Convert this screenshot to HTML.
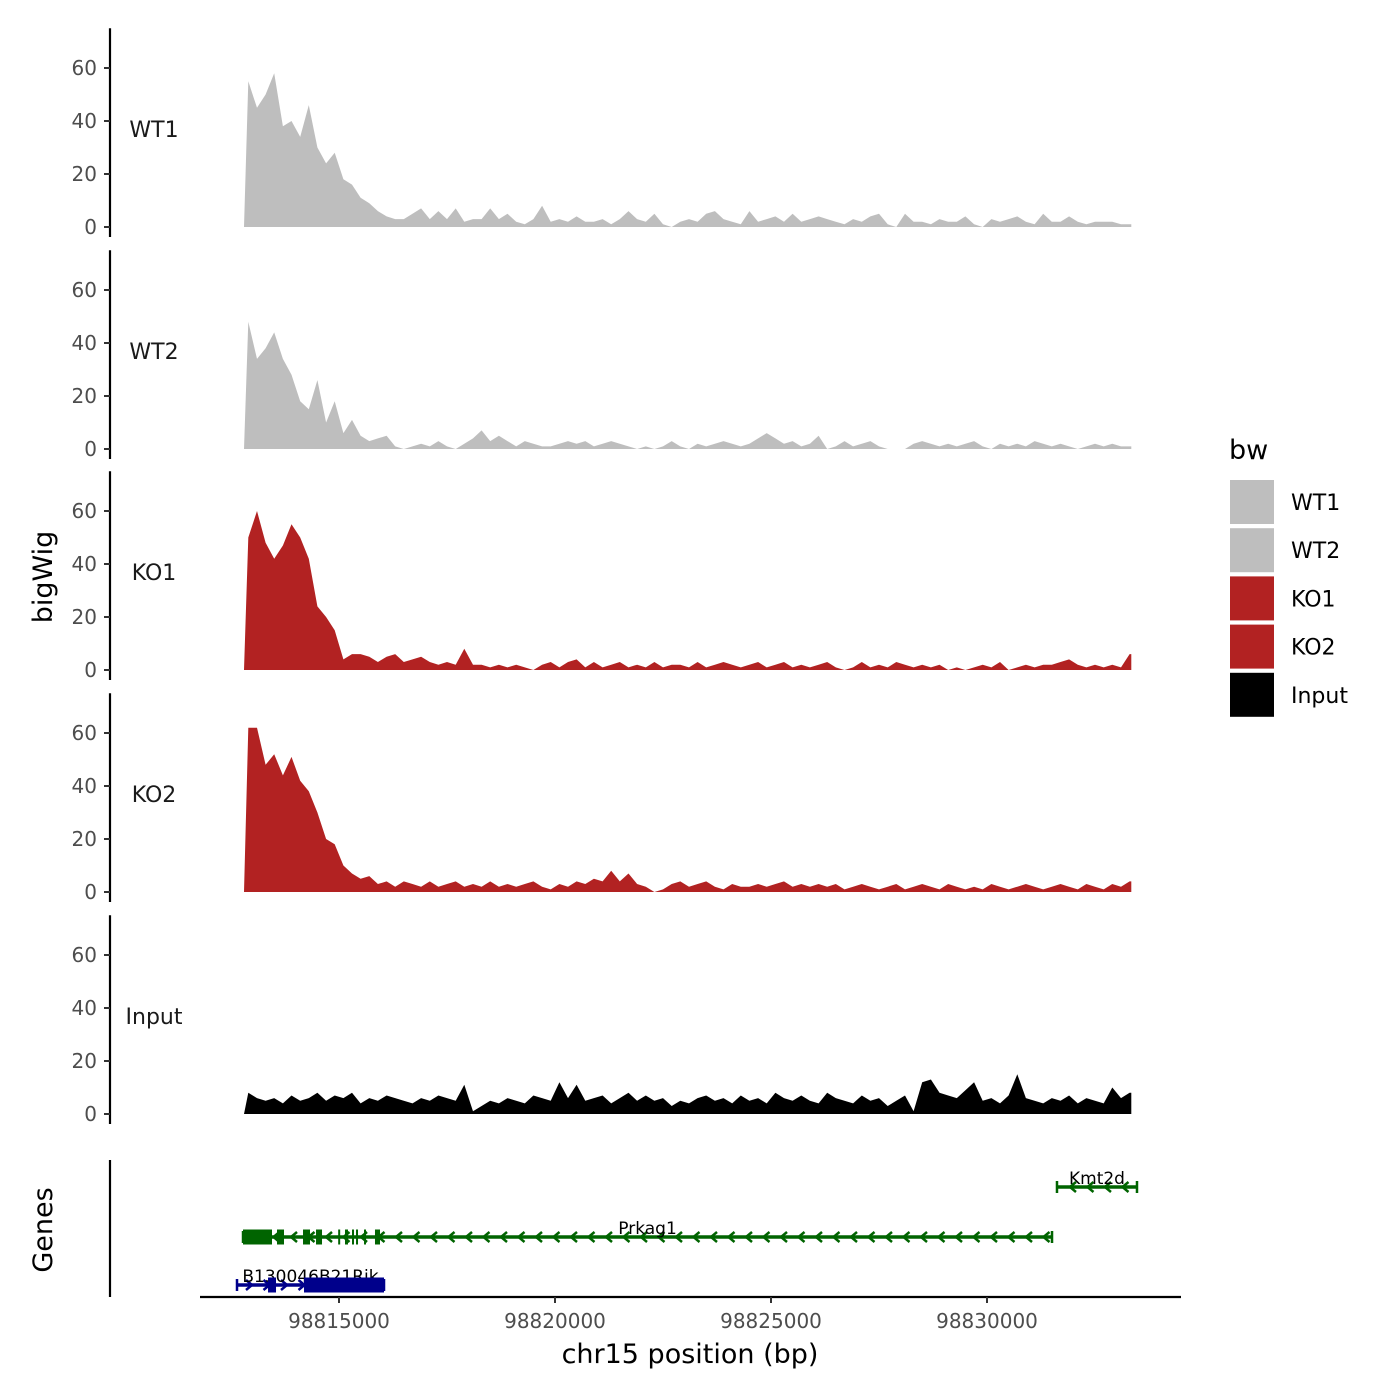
<!DOCTYPE html>
<html><head><meta charset="utf-8"><style>
body{margin:0;background:#fff;}
svg{display:block;font-family:"DejaVu Sans","Liberation Sans",sans-serif;}
</style></head><body>
<svg id="chart" width="1400" height="1400" viewBox="0 0 1400 1400"></svg>
<script>
const trackNames = ["WT1","WT2","KO1","KO2","Input"];
const trackColors = ["#BEBEBE","#BEBEBE","#B22222","#B22222","#000000"];
const binStart = 98812801;
const binSize = 200;
const yTicks = [0,20,40,60];
const xTicks = [98815000,98820000,98825000,98830000];
const wt1 = [55,45,50,58,38,40,34,46,30,24,28,18,16,11,9,6,4,3,3,5,7,3,6,3,7,2,3,3,7,3,5,2,1,3,8,2,3,2,4,2,2,3,1,3,6,3,2,5,1,0,2,3,2,5,6,3,2,1,6,2,3,4,2,5,2,3,4,3,2,1,3,2,4,5,1,0,5,2,2,1,3,2,2,4,1,0,3,2,3,4,2,1,5,2,2,4,2,1,2,2,2,1,1];
const wt2 = [48,34,38,44,34,28,18,15,26,10,18,6,11,5,3,4,5,1,0,1,2,1,3,1,0,2,4,7,3,5,3,1,3,2,1,1,2,3,2,3,1,2,3,2,1,0,1,0,1,3,1,0,2,1,2,3,2,1,2,4,6,4,2,3,1,2,5,0,1,3,1,2,3,1,0,0,0,2,3,2,1,2,1,2,3,1,0,2,1,2,1,3,2,1,2,1,0,1,2,1,2,1,1];
const ko1 = [50,60,48,42,47,55,50,42,24,20,15,4,6,6,5,3,5,6,3,4,5,3,2,3,2,8,2,2,1,2,1,2,1,0,2,3,1,3,4,1,3,1,2,3,1,2,1,3,1,2,2,1,3,1,2,3,2,1,2,3,1,2,3,1,2,1,2,3,1,0,1,3,1,2,1,3,2,1,2,1,2,0,1,0,1,2,1,3,0,1,2,1,2,2,3,4,2,1,2,1,2,1,6];
const ko2 = [62,62,48,52,44,51,42,38,30,20,18,10,7,5,6,3,4,2,4,3,2,4,2,3,4,2,3,2,4,2,3,2,3,4,2,1,3,2,4,3,5,4,8,4,7,3,2,0,1,3,4,2,3,4,2,1,3,2,2,3,2,3,4,2,3,2,3,2,3,1,2,3,2,1,2,3,1,2,3,2,1,3,2,1,2,1,3,2,1,2,3,2,1,2,3,2,1,3,2,1,3,2,4];
const inputSig = [8,6,5,6,4,7,5,6,8,5,7,6,8,4,6,5,7,6,5,4,6,5,7,6,5,11,1,3,5,4,6,5,4,7,6,5,12,6,11,5,6,7,4,6,8,5,7,5,6,3,5,4,6,7,5,6,4,7,5,6,4,8,6,5,7,5,4,8,6,5,4,7,5,6,3,5,7,1,12,13,8,7,6,9,12,5,6,4,7,15,6,5,4,6,5,7,4,6,5,4,10,6,8];
const trackValues = [wt1,wt2,ko1,ko2,inputSig];
const geneNames = ["Prkag1","Kmt2d","B130046B21Rik"];
const geneStarts = [98812778,98831620,98812639];
const geneEnds = [98831505,98833472,98816042];
const geneRows = [1237,1187,1285];
const geneStrands = [-1,-1,1];
const geneCols = ["#006400","#006400","#00008B"];
const exonGene = [0,0,0,0,0,0,0,0,0,0,2,2];
const exonStarts = [98812778,98813565,98814167,98814468,98815139,98815394,98815579,98815833,98814981,98815301,98813357,98814190];
const exonEnds = [98813449,98813727,98814329,98814607,98815208,98815440,98815625,98815949,98815001,98815321,98813542,98816042];

const NS="http://www.w3.org/2000/svg";
const svg=document.getElementById('chart');
function mk(tag,attrs,parent){const e=document.createElementNS(NS,tag);for(const k in attrs)e.setAttribute(k,attrs[k]);(parent||svg).appendChild(e);return e;}
const xScale=bp=>339+(bp-98815000)*216/5000;
const zeroYs=[227,449,670,892,1114];
const yScale=(v,t)=>zeroYs[t]-v*2.65;

trackNames.forEach((name,t)=>{
  const g=mk('g',{});
  
  
  const top=yScale(75,t), bot=zeroYs[t]+10;
  const ax=mk('line',{x1:110,x2:110,y1:top,y2:bot,stroke:'#000','stroke-width':2.2},g);
  
  
  yTicks.forEach(v=>{
    const y=yScale(v,t);
    const tk=mk('line',{x1:104,x2:110,y1:y,y2:y,stroke:'#333','stroke-width':2},g);
    
    
    const lb=mk('text',{x:97,y:y+7,'text-anchor':'end','font-size':20,fill:'#4d4d4d'},g);
    lb.textContent=v;
    
    
  });
  const lab=mk('text',{x:154,y:yScale(34,t),'text-anchor':'middle','font-size':22,fill:'#1a1a1a'},g);
  lab.textContent=name;
  
  
  const vals=trackValues[t];
  let d='M'+xScale(binStart).toFixed(1)+','+zeroYs[t];
  vals.forEach((v,i)=>{d+=' L'+xScale(binStart+i*binSize+binSize/2).toFixed(1)+','+yScale(v,t).toFixed(1);});
  d+=' L'+xScale(binStart+(vals.length)*binSize-60).toFixed(1)+','+yScale(vals[vals.length-1],t).toFixed(1);
  d+=' L'+xScale(binStart+(vals.length)*binSize-60).toFixed(1)+','+zeroYs[t]+' Z';
  const area=mk('path',{d:d,fill:trackColors[t]},g);
  
  
});

const gax=mk('line',{x1:110,x2:110,y1:1160,y2:1297,stroke:'#000','stroke-width':2.2});


geneNames.forEach((name,gi)=>{
  const g=mk('g',{});
  
  
  const y=geneRows[gi],x1=xScale(geneStarts[gi]),x2=xScale(geneEnds[gi]),c=geneCols[gi];
  mk('line',{x1:x1,x2:x2,y1:y,y2:y,stroke:c,'stroke-width':3.5},g);
  for(let x=x1+14;x<x2-4;x+=17.5){
    const s=geneStrands[gi];
    mk('polyline',{points:`${x-5*s},${y-5} ${x+1*s},${y} ${x-5*s},${y+5}`,fill:'none',stroke:c,'stroke-width':2.5},g);
  }
  mk('line',{x1:x1,x2:x1,y1:y-6,y2:y+6,stroke:c,'stroke-width':2.5},g);
  mk('line',{x1:x2,x2:x2,y1:y-6,y2:y+6,stroke:c,'stroke-width':2.5},g);
  const tx=mk('text',{x:(x1+x2)/2,y:y-3,'text-anchor':'middle','font-size':17,fill:'#000'},g);
  tx.textContent=name;
  
  
});
exonGene.forEach((gi,k)=>{
  const y=geneRows[gi];
  const ex=mk('rect',{x:xScale(exonStarts[k]),y:y-7.5,width:Math.max(2,xScale(exonEnds[k])-xScale(exonStarts[k])),height:15,fill:geneCols[gi]});
  
  
});

const xax=mk('line',{x1:200,x2:1181,y1:1297,y2:1297,stroke:'#000','stroke-width':2.2});


xTicks.forEach(v=>{
  const x=xScale(v);
  const tk=mk('line',{x1:x,x2:x,y1:1297,y2:1303,stroke:'#333','stroke-width':2});
  
  
  const lb=mk('text',{x:x,y:1328,'text-anchor':'middle','font-size':20,fill:'#4d4d4d'});
  lb.textContent=v;
  
  
});
const xt=mk('text',{x:690,y:1363,'text-anchor':'middle','font-size':27,fill:'#000'});
xt.textContent='chr15 position (bp)';


const yt=mk('text',{x:0,y:0,'text-anchor':'middle','font-size':27,fill:'#000',transform:'translate(52,577) rotate(-90)'});
yt.textContent='bigWig';


const gt=mk('text',{x:0,y:0,'text-anchor':'middle','font-size':27,fill:'#000',transform:'translate(52,1230) rotate(-90)'});
gt.textContent='Genes';



const lt=mk('text',{x:1229,y:459,'font-size':27,fill:'#000'});
lt.textContent='bw';


trackNames.forEach((name,t)=>{
  const g=mk('g',{});
  
  
  const y=480+t*48.2;
  mk('rect',{x:1230,y:y,width:44,height:44,fill:trackColors[t]},g);
  const tx=mk('text',{x:1291,y:y+30,'font-size':22,fill:'#000'},g);
  tx.textContent=name;
});
</script>
</body></html>
